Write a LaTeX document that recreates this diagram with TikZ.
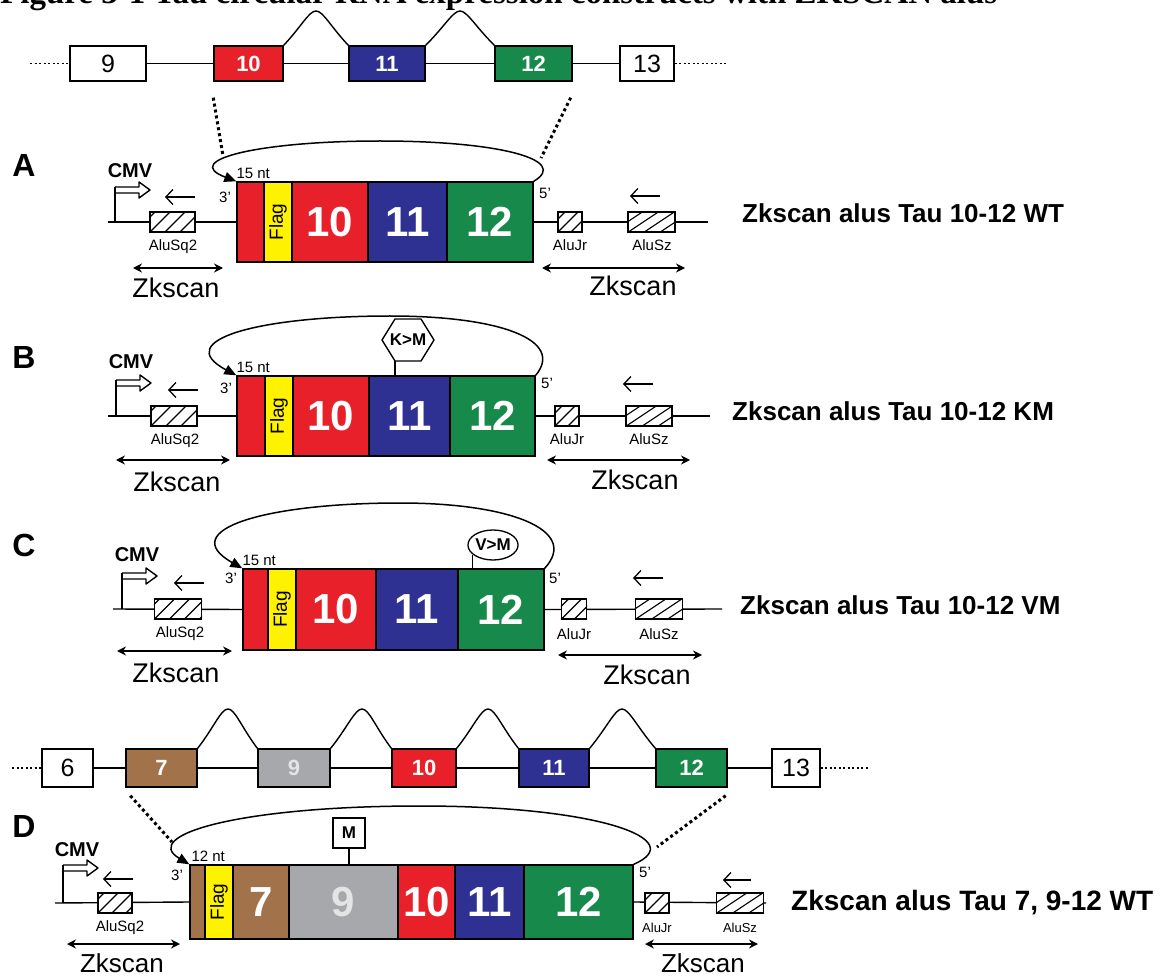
\documentclass[tikz,border=0pt]{standalone}
\usepackage{fontspec}
\setmainfont{Liberation Sans}
\newfontfamily\titlefont{Liberation Serif}
\usetikzlibrary{arrows.meta,calc,shapes.geometric}
\newcommand{\fsz}[1]{\fontsize{#1}{#1}\selectfont}
\definecolor{exred}{HTML}{E8202A}
\definecolor{exblue}{HTML}{2E3192}
\definecolor{exgreen}{HTML}{17894A}
\definecolor{exyellow}{HTML}{FFF200}
\definecolor{exbrown}{HTML}{A2724A}
\definecolor{exgray}{HTML}{A6A8AB}
\definecolor{ninegray}{HTML}{E4E4E4}
\tikzset{
 ln/.style={line width=1.4pt, line join=round},
 dotl/.style={line width=3pt, dash pattern=on 3pt off 3pt},
 dotrow/.style={line width=1.8pt, dash pattern=on 2pt off 2.5pt},
 exT/.style={draw, line width=1.4pt, inner sep=0pt, minimum height=35},
 exD/.style={draw, line width=1.4pt, inner sep=0pt, minimum height=38},
 topwhite/.style={fill=white, font=\fsz{25}},
 topcol/.style={text=white, font=\fsz{22}\bfseries},
 seg/.style={draw, line width=1.4pt, inner sep=0pt},
 segnum/.style={text=white, font=\fsz{42}\bfseries},
 flagtxt/.style={rotate=90, font=\fsz{19}, inner sep=0pt},
 alubox/.style={draw, fill=white, line width=1.2pt, inner sep=0pt, minimum height=20},
 hatch/.style={line width=1.1pt},
 alulbl/.style={font=\fsz{15}, inner sep=0pt},
 zk/.style={font=\fsz{27}, inner sep=0pt},
 dbl/.style={line width=1.4pt, {Stealth[length=9pt,width=9pt]}-{Stealth[length=9pt,width=9pt]}},
 larr/.style={line width=1.3pt, -{Straight Barb[length=7pt,width=15pt]}},
 circarr/.style={line width=1.5pt, -{Triangle[length=12pt,width=10pt]}},
 cmv/.style={font=\fsz{20}\bfseries, inner sep=0pt},
 panel/.style={font=\fsz{32}\bfseries, inner sep=0pt},
 smalltxt/.style={font=\fsz{15}, inner sep=0pt},
 prime/.style={font=\fsz{15}, inner sep=0pt},
 ctitle/.style={font=\fsz{26}\bfseries, anchor=west, inner sep=0pt},
 mut/.style={font=\fsz{17}\bfseries, inner sep=0pt},
}
% hatched Alu box: name, cx, cy, width, spacing, dx
\newcommand{\alu}[6]{%
 \node[alubox, minimum width=#4] (#1) at (#2,#3) {};
 \begin{scope}
 \clip (#1.south west) rectangle (#1.north east);
 \foreach \k in {-3,...,5} {\draw[hatch] ($(#1.south west)+(\k*#5,0)$) -- ++(#6,-20);}
 \end{scope}}
% promoter arrow: x, shaft top y, line y
\newcommand{\prom}[3]{%
 \draw[ln, fill=white] (#1,#2) -- ++(24,0) -- ++(0,-5) -- ++(11,8) -- ++(-11,8) -- ++(0,-5) -- ++(-24,0);
 \draw[ln] (#1,#2) -- (#1,#3);}
% intron arch: from, apex, to
\newcommand{\arch}[3]{%
 \draw[ln] (#1) .. controls ($(#1)!0.55!(#2)$) and ($(#2)+(-7,0)$) .. (#2) .. controls ($(#2)+(7,0)$) and ($(#3)!0.55!(#2)$) .. (#3);}
\begin{document}
\begin{tikzpicture}[x=1pt,y=-1pt]
\useasboundingbox (0,0) rectangle (1171,976);
\clip (0,0) rectangle (1171,976);
\fill[white] (0,0) rectangle (1171,976);

% title (cut off at top, as in the source)
\node[anchor=base west, inner sep=0pt, font=\titlefont\bfseries\fsz{33}] (title) at (0,4) {Figure 3-1 Tau circular RNA expression constructs with ZKSCAN alus};

% ---------- top gene row ----------
\coordinate (tdl) at (30,63.5);
\coordinate (tdr) at (727,63.5);
\node[exT, topwhite, minimum width=76] (t9) at (108,63.5) {9};
\node[exT, fill=exred, topcol, minimum width=69] (t10) at (248.5,63.5) {10};
\node[exT, fill=exblue, topcol, minimum width=76] (t11) at (387,63.5) {11};
\node[exT, fill=exgreen, topcol, minimum width=77] (t12) at (533.5,63.5) {12};
\node[exT, topwhite, minimum width=54] (t13) at (647,63.5) {13};
\draw[dotrow] (tdl) -- (t9.west);
\draw[dotrow] (t13.east) -- (tdr);
\draw[ln] (t9) -- (t10);
\draw[ln] (t10) -- (t11);
\draw[ln] (t11) -- (t12);
\draw[ln] (t12) -- (t13);
\coordinate (pk1) at (316,11);
\coordinate (pk2) at (460,11);
\arch{t10.north east}{pk1}{t11.north west}
\arch{t11.north east}{pk2}{t12.north west}

% ---------- Panel A ----------
\node[panel] (lA) at (24,165) {A};
\node[seg, fill=exred, minimum width=27, minimum height=80] (a0) at (250.5,222) {};
\node[seg, fill=exyellow, minimum width=28, minimum height=80] (af) at (278,222) {};
\node[flagtxt] at (af) {Flag};
\node[seg, fill=exred, segnum, minimum width=76, minimum height=80] (a10) at (330,222) {10};
\node[seg, fill=exblue, segnum, minimum width=79, minimum height=80] (a11) at (407.5,222) {11};
\node[seg, fill=exgreen, segnum, minimum width=86, minimum height=80] (a12) at (490,222) {12};
\coordinate (dA1) at (223,156);
\coordinate (dA2) at (541,158);
\draw[dotl] ($(t10.south west)+(0,16)$) -- (dA1);
\draw[dotl] ($(t12.south east)+(-2,16)$) -- (dA2);
\draw[circarr] (a12.north east) .. controls (570,160) and (500,141) .. (380,141) .. controls (260,141) and (180,160) .. (a0.north west);
\node[smalltxt, anchor=south west] at ($(a0.north west)+(0,-2)$) {15 nt};
\node[prime] at (225,197) {3’};
\node[prime] at (545,193) {5’};
\node[cmv] (cmvA) at (130,171) {CMV};
\coordinate (lsA) at (108,222);
\draw[ln] (lsA) -- (a0.west);
\prom{115}{187}{222}
\coordinate (laA1) at (195,197); \coordinate (laA2) at (165,197);
\draw[larr] (laA1) -- (laA2);
\alu{sqA}{172.5}{222}{45}{15}{20}
\node[alulbl] at (173,247) {AluSq2};
\coordinate (zlA) at (133,268); \coordinate (zrA) at (223,268);
\draw[dbl] (zlA) -- (zrA);
\node[zk] at (176,288) {Zkscan};
\coordinate (reA) at (708,222);
\draw[ln] (a12.east) -- (reA);
\alu{jrA}{570}{222}{24}{13}{20}
\alu{szA}{651.5}{222}{47}{16}{30}
\coordinate (raA1) at (660,196); \coordinate (raA2) at (630,196);
\draw[larr] (raA1) -- (raA2);
\node[alulbl] at (570,245) {AluJr};
\node[alulbl] at (652,245) {AluSz};
\coordinate (zlA2) at (542,268); \coordinate (zrA2) at (685,268);
\draw[dbl] (zlA2) -- (zrA2);
\node[zk] at (633,286) {Zkscan};
\node[ctitle] at (742,213) {Zkscan alus Tau 10-12 WT};

% ---------- Panel B ----------
\node[panel] (lB) at (24,357) {B};
\node[seg, fill=exred, minimum width=28, minimum height=80] (b0) at (251,416) {};
\node[seg, fill=exyellow, minimum width=28, minimum height=80] (bf) at (279,416) {};
\node[flagtxt] at (bf) {Flag};
\node[seg, fill=exred, segnum, minimum width=76, minimum height=80] (b10) at (331,416) {10};
\node[seg, fill=exblue, segnum, minimum width=81, minimum height=80] (b11) at (409.5,416) {11};
\node[seg, fill=exgreen, segnum, minimum width=85, minimum height=80] (b12) at (492.5,416) {12};
\draw[circarr] (b12.north east) .. controls (565,340) and (500,316) .. (390,316) .. controls (260,316) and (170,340) .. (b0.north west);
\node[mut] (km) at (408,340) {K>M};
\draw[ln, fill=white] ($(km.center)+(-26,0)$) -- ($(km.center)+(-13,-21)$) -- ($(km.center)+(13,-21)$) -- ($(km.center)+(26,0)$) -- ($(km.center)+(13,21)$) -- ($(km.center)+(-13,21)$) -- cycle;
\node[mut] at (km) {K>M};
\coordinate (kmst) at ($(km.center)+(-13,21)$);
\draw[ln] (kmst) -- (kmst |- b11.north);
\node[smalltxt, anchor=south west] at ($(b0.north west)+(0,-2)$) {15 nt};
\node[prime] at (226,388) {3’};
\node[prime] at (547,383) {5’};
\node[cmv] (cmvB) at (131,362) {CMV};
\coordinate (lsB) at (108,416);
\draw[ln] (lsB) -- (b0.west);
\prom{116}{380}{416}
\coordinate (laB1) at (198,390); \coordinate (laB2) at (168,390);
\draw[larr] (laB1) -- (laB2);
\alu{sqB}{174}{416}{46}{15}{20}
\node[alulbl] at (175,441) {AluSq2};
\coordinate (zlB) at (116,460); \coordinate (zrB) at (230,460);
\draw[dbl] (zlB) -- (zrB);
\node[zk] at (177,482) {Zkscan};
\coordinate (reB) at (710,416);
\draw[ln] (b12.east) -- (reB);
\alu{jrB}{567}{416}{24}{13}{20}
\alu{szB}{649}{416}{46}{16}{30}
\coordinate (raB1) at (653,384); \coordinate (raB2) at (623,384);
\draw[larr] (raB1) -- (raB2);
\node[alulbl] at (567,439) {AluJr};
\node[alulbl] at (649,439) {AluSz};
\coordinate (zlB2) at (547,460); \coordinate (zrB2) at (690,460);
\draw[dbl] (zlB2) -- (zrB2);
\node[zk] at (635,480) {Zkscan};
\node[ctitle] at (732,411) {Zkscan alus Tau 10-12 KM};

% ---------- Panel C ----------
\node[panel] (lC) at (24,545) {C};
\node[seg, fill=exred, minimum width=25, minimum height=81] (c0) at (255.5,609.5) {};
\node[seg, fill=exyellow, minimum width=28, minimum height=81] (cf) at (282,609.5) {};
\node[flagtxt] at (cf) {Flag};
\node[seg, fill=exred, segnum, minimum width=80, minimum height=81] (c10) at (336,609.5) {10};
\node[seg, fill=exblue, segnum, minimum width=82, minimum height=81] (c11) at (417,609.5) {11};
\node[seg, fill=exgreen, segnum, minimum width=86, minimum height=81] (c12) at (501,609.5) {12};
\draw[circarr] (c12.north east) .. controls (580,530) and (510,503) .. (400,503) .. controls (265,503) and (175,530) .. (c0.north west);
\node[draw, ellipse, fill=white, line width=1.3pt, minimum width=50, minimum height=30, inner sep=0pt, mut] (vm) at (493,545) {V>M};
\draw[ln] (vm.205) -- (vm.205 |- c12.north);
\node[smalltxt, anchor=south west] at ($(c0.north west)+(0,-2)$) {15 nt};
\node[prime] at (231,578) {3’};
\node[prime] at (555,578) {5’};
\node[cmv] (cmvC) at (137,555) {CMV};
\coordinate (lsC) at (113,609);
\draw[ln] (lsC) -- (c0.west);
\prom{122}{573}{609}
\coordinate (laC1) at (204,583); \coordinate (laC2) at (174,583);
\draw[larr] (laC1) -- (laC2);
\alu{sqC}{178}{609}{47}{15}{20}
\node[alulbl] at (180,634) {AluSq2};
\coordinate (zlC) at (117,651); \coordinate (zrC) at (232,651);
\draw[dbl] (zlC) -- (zrC);
\node[zk] at (176,673) {Zkscan};
\coordinate (reC) at (722,609);
\draw[ln] (c12.east) -- (reC);
\alu{jrC}{574}{609}{25}{13}{20}
\alu{szC}{659}{609}{47}{16}{30}
\coordinate (raC1) at (663,578); \coordinate (raC2) at (633,578);
\draw[larr] (raC1) -- (raC2);
\node[alulbl] at (574,634) {AluJr};
\node[alulbl] at (659,634) {AluSz};
\coordinate (zlC2) at (558,655); \coordinate (zrC2) at (702,655);
\draw[dbl] (zlC2) -- (zrC2);
\node[zk] at (647,675) {Zkscan};
\node[ctitle] at (740,605) {Zkscan alus Tau 10-12 VM};

% ---------- second gene row ----------
\coordinate (udl) at (12,768);
\coordinate (udr) at (870,768);
\node[exD, topwhite, minimum width=51] (u6) at (67.5,768) {6};
\node[exD, fill=exbrown, topcol, minimum width=71] (u7) at (161.5,768) {7};
\node[exD, fill=exgray, topcol, text=ninegray, minimum width=72] (u9) at (294,768) {9};
\node[exD, fill=exred, topcol, minimum width=64] (u10) at (424,768) {10};
\node[exD, fill=exblue, topcol, minimum width=70] (u11) at (554,768) {11};
\node[exD, fill=exgreen, topcol, minimum width=71] (u12) at (691.5,768) {12};
\node[exD, topwhite, minimum width=48] (u13) at (796,768) {13};
\draw[dotrow] (udl) -- (u6.west);
\draw[dotrow] (u13.east) -- (udr);
\draw[ln] (u6) -- (u7);
\draw[ln] (u7) -- (u9);
\draw[ln] (u9) -- (u10);
\draw[ln] (u10) -- (u11);
\draw[ln] (u11) -- (u12);
\draw[ln] (u12) -- (u13);
\coordinate (q1) at (228,709);
\coordinate (q2) at (362,709);
\coordinate (q3) at (488,709);
\coordinate (q4) at (622,709);
\arch{u7.north east}{q1}{u9.north west}
\arch{u9.north east}{q2}{u10.north west}
\arch{u10.north east}{q3}{u11.north west}
\arch{u11.north east}{q4}{u12.north west}

% ---------- Panel D ----------
\node[panel] (lD) at (24,826) {D};
\node[seg, fill=exbrown, minimum width=15, minimum height=74] (d0) at (197.5,902) {};
\node[seg, fill=exyellow, minimum width=28, minimum height=74] (df) at (219,902) {};
\node[flagtxt] at (df) {Flag};
\node[seg, fill=exbrown, segnum, minimum width=56, minimum height=74] (d7) at (261,902) {7};
\node[seg, fill=exgray, segnum, text=ninegray, minimum width=109, minimum height=74] (d9) at (343.5,902) {9};
\node[seg, fill=exred, segnum, minimum width=57, minimum height=74] (d10) at (426.5,902) {10};
\node[seg, fill=exblue, segnum, minimum width=69, minimum height=74] (d11) at (489.5,902) {11};
\node[seg, fill=exgreen, segnum, minimum width=109, minimum height=74] (d12) at (578.5,902) {12};
\coordinate (dD1) at (172,842);
\coordinate (dD2) at (657,847);
\draw[dotl] ($(u7.south west)+(5,8)$) -- (dD1);
\draw[dotl] ($(u12.south east)+(-2,8)$) -- (dD2);
\draw[circarr] (d12.north east) .. controls (690,840) and (600,806) .. (420,806) .. controls (240,806) and (140,835) .. (d0.north west);
\node[draw, fill=white, line width=1.3pt, minimum width=32, minimum height=30, inner sep=0pt, mut] (mm) at (349,833) {M};
\draw[ln] (mm.south) -- (mm.south |- d9.north);
\node[smalltxt, anchor=south west] at ($(d0.north west)+(2,-2)$) {12 nt};
\node[prime] at (177,875) {3’};
\node[prime] at (645,872) {5’};
\node[cmv] (cmvD) at (77,850) {CMV};
\coordinate (lsD) at (55,903);
\draw[ln] (lsD) -- (d0.west);
\prom{63}{865}{903}
\coordinate (laD1) at (133,879); \coordinate (laD2) at (103,879);
\draw[larr] (laD1) -- (laD2);
\alu{sqD}{115}{903}{34}{14}{20}
\node[alulbl] at (120,928) {AluSq2};
\coordinate (zlD) at (67,944); \coordinate (zrD) at (180,944);
\draw[dbl] (zlD) -- (zrD);
\node[zk, font=\fsz{26}] at (122,963) {Zkscan};
\coordinate (reD) at (766,903);
\draw[ln] (d12.east) -- (reD);
\alu{jrD}{657}{903}{24}{13}{20}
\alu{szD}{740}{903}{47}{16}{30}
\coordinate (raD1) at (751,880); \coordinate (raD2) at (723,880);
\draw[larr] (raD1) -- (raD2);
\node[alulbl, font=\fsz{13}] at (657,928) {AluJr};
\node[alulbl, font=\fsz{13}] at (740,928) {AluSz};
\coordinate (zlD2) at (645,944); \coordinate (zrD2) at (758,944);
\draw[dbl] (zlD2) -- (zrD2);
\node[zk, font=\fsz{26}] at (703,963) {Zkscan};
\node[ctitle, font=\fsz{28}\bfseries] at (791,903) {Zkscan alus Tau 7, 9-12 WT};
\end{tikzpicture}
\end{document}
